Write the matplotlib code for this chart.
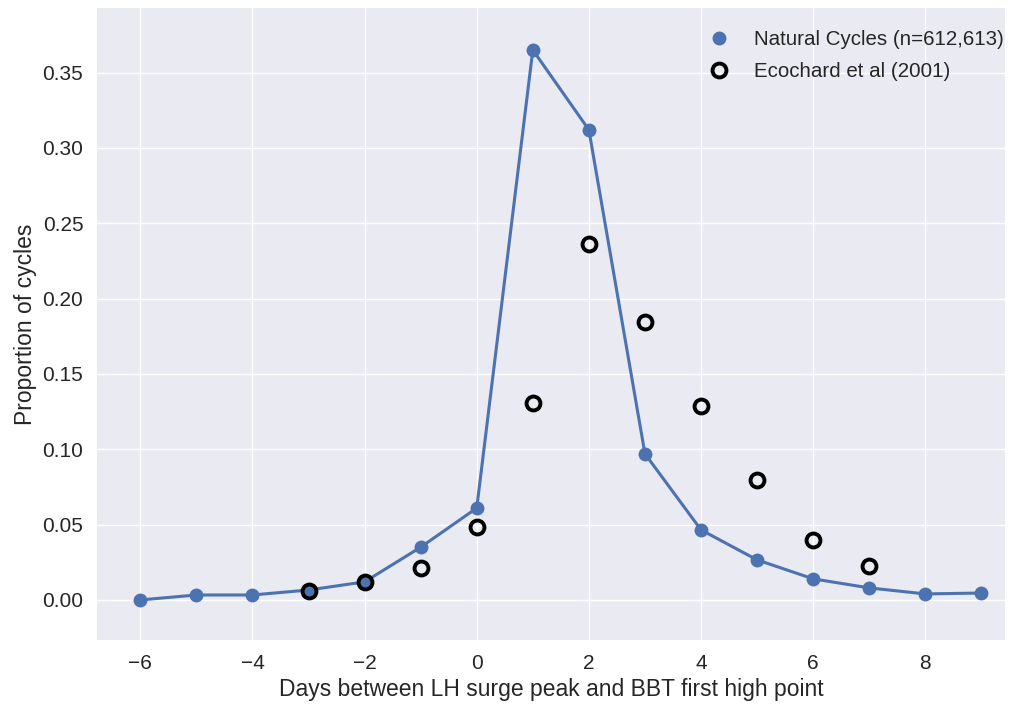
import matplotlib
matplotlib.use("Agg")
import matplotlib.pyplot as plt
import numpy as np

plt.style.use("seaborn-v0_8")
plt.rcParams['font.family'] = ['Liberation Sans', 'DejaVu Sans']

# Natural Cycles distribution
days_nc = [-6, -5, -4, -3, -2, -1, 0, 1, 2, 3, 4, 5, 6, 7, 8, 9]
prop_nc = [0.000, 0.0033, 0.0033, 0.0066, 0.012, 0.035, 0.061, 0.365,
           0.312, 0.097, 0.0465, 0.0266, 0.014, 0.008, 0.004, 0.0046]

# Ecochard et al (2001)
days_ec = [-3, -2, -1, 0, 1, 2, 3, 4, 5, 6, 7]
prop_ec = [0.006, 0.012, 0.021, 0.0485, 0.131, 0.236, 0.1845, 0.129,
           0.0797, 0.0398, 0.0226]

fig = plt.figure(figsize=(10.12, 7.08), dpi=100)
ax = fig.add_axes([0.096, 0.096, 0.897, 0.893])

ax.plot(days_nc, prop_nc, '-', color='#4C72B0', lw=2.2, zorder=2)
ax.plot(days_nc, prop_nc, 'o', color='#4C72B0', ms=10, zorder=3,
        label='Natural Cycles (n=612,613)')
ax.plot(days_ec, prop_ec, 'o', mfc='none', mec='black', mew=2.8, ms=10,
        zorder=4, label='Ecochard et al (2001)')

ax.set_xlim(-6.77, 9.42)
ax.set_ylim(-0.0266, 0.393)
ax.set_xticks(np.arange(-6, 10, 2))
ax.set_yticks(np.arange(0, 0.36, 0.05))
ax.tick_params(labelsize=15, pad=10)
ax.set_xlabel('Days between LH surge peak and BBT first high point', fontsize=16.5)
ax.set_ylabel('Proportion of cycles', fontsize=16.5)
ax.legend(loc='upper right', bbox_to_anchor=(1.012, 0.984), fontsize=14.8,
          frameon=False, handletextpad=0.67, labelspacing=0.63,
          borderaxespad=0.2)

fig.savefig("out.png", dpi=100)
